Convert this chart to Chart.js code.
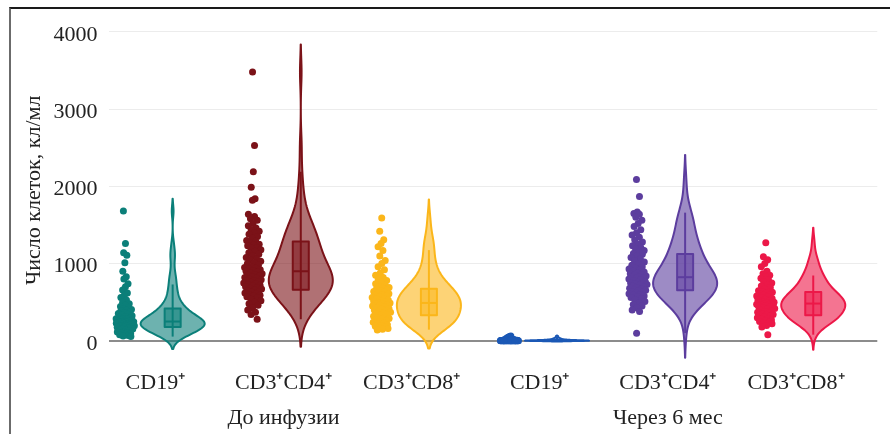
<!DOCTYPE html>
<html><head><meta charset="utf-8">
<style>
html,body{margin:0;padding:0;background:#fff;}
#wrap{position:relative;width:890px;height:434px;overflow:hidden;}
#frame{position:absolute;left:9px;top:7px;width:900px;height:440px;border-top:2px solid #1a1a1a;border-left:2px solid #6b6b6b;pointer-events:none;}
canvas{display:block;}
</style>
<script src="https://cdn.jsdelivr.net/npm/chart.js@4.4.0/dist/chart.umd.min.js"></script>
</head><body>
<div id="wrap"><canvas id="c" width="890" height="434"></canvas><div id="frame"></div></div>
<script>
// ---- data (cells per µl) ----
const categories = ['CD19⁺', 'CD3⁺CD4⁺', 'CD3⁺CD8⁺', 'CD19⁺', 'CD3⁺CD4⁺', 'CD3⁺CD8⁺'];
const groupLabels = ['До инфузии', 'Через 6 мес'];
const groupLabelAt = [1, 4];
const yTicks = [0, 1000, 2000, 3000, 4000];
const yTitle = 'Число клеток, кл/мл';

const cd19Before = [1680, 1260, 1140, 1110, 1010, 900, 830, 800,
  740, 700, 660, 620, 590, 560, 530, 500, 480, 460, 445, 430,
  415, 405, 395, 385, 375, 365, 355, 345, 335, 325, 315, 305, 295, 290, 285, 280, 275, 270, 265, 260, 255, 250,
  247, 244, 240, 236, 232, 228, 224, 220, 216, 212, 208, 204, 200, 196, 192, 188, 184, 180,
  175, 168, 160, 152, 145, 138, 130, 122, 115, 108, 100, 92, 85, 78, 70, 62, 55];
const cd4Before = [3480, 2530, 2190, 1990, 1840, 1820, 1640, 1610, 1580, 1560, 1520, 1490, 1460, 1440, 1420, 1400, 1380, 1350, 1330, 1300, 1290, 1270, 1250, 1240, 1230, 1210, 1200,
  1180, 1160, 1140, 1120, 1100, 1080, 1060, 1050, 1030, 1010, 1000, 980, 960, 950, 940, 930, 920, 910, 900,
  890, 880, 870, 860, 850, 840, 830, 820, 810, 800, 790, 780, 775, 770, 760, 750, 740, 730, 720, 710, 700, 690, 680, 670, 660,
  650, 640, 630, 620, 610, 600, 590, 580, 570, 560, 540, 520, 500, 480, 460, 430, 400, 370, 340, 280];
const cd8Before = [1590, 1420, 1310, 1260, 1220,
  1170, 1100, 1040, 1000, 960, 920, 880, 850, 820, 800, 780, 760, 740, 720, 700, 690, 680,
  670, 660, 650, 640, 630, 620, 610, 600, 590, 580, 570, 560, 550, 540, 530, 520, 510, 500, 495, 490, 485, 480, 470, 460, 450, 440, 430, 420, 410, 400, 390, 380, 370, 360, 350, 340,
  330, 320, 310, 300, 290, 280, 270, 260, 250, 240, 230, 220, 210, 200, 190, 180, 170, 160, 150, 140];
const cd19After = [62, 55, 48, 42, 38, 35, 32, 30, 28, 26, 24, 22, 20, 19, 18, 17, 16, 15, 14, 13, 12, 12, 11, 10, 10, 9, 9, 8, 8, 7, 7, 6, 6, 6,
  5, 5, 5, 5, 4, 4, 4, 4, 3, 3, 3, 3, 3, 2, 2, 2, 2, 2, 2, 1, 1, 1, 1, 1, 1, 1, 0, 0, 0, 0, 0, 0, 0, 0, 0, 0, 0, 0];
const cd4After = [2090, 1870, 1670, 1650, 1640, 1600, 1560, 1520, 1480, 1440, 1400, 1370, 1340, 1310, 1280, 1250, 1230, 1210, 1190, 1170, 1150, 1130,
  1120, 1100, 1080, 1060, 1040, 1020, 1000, 980, 960, 940, 930, 920, 900, 890, 880, 870, 860, 850, 840, 830, 825,
  820, 810, 800, 790, 780, 770, 760, 750, 745, 740, 730, 720, 710, 700, 690, 680, 670, 660, 655,
  650, 640, 630, 620, 610, 600, 590, 580, 570, 560, 550, 530, 510, 490, 470, 450, 430, 400, 380, 100];
const cd8After = [1270, 1090, 1050, 1000, 960, 900, 870, 850, 830, 810, 790, 770, 750, 730, 710, 690, 670, 650, 640, 635,
  630, 620, 610, 600, 590, 580, 570, 560, 550, 540, 530, 520, 510, 500, 495, 490, 485,
  480, 475, 470, 465, 460, 455, 450, 440, 430, 420, 410, 400, 390, 380, 370, 360, 350, 340, 335,
  330, 320, 310, 300, 290, 280, 270, 260, 250, 240, 230, 220, 200, 180, 80];

// box statistics
const boxQ1 = [180, 663, 333, 1, 654, 333];
const boxMedian = [250, 901, 491, 4, 824, 483];
const boxQ3 = [420, 1286, 675, 12, 1124, 632];
const whiskerLow = [55, 280, 145, 0, 100, 80];
const whiskerHigh = [730, 2190, 1175, 50, 1660, 846];

const series = [cd19Before, cd4Before, cd8Before, cd19After, cd4After, cd8After];
const colors = ['#0b7f79', '#7b1218', '#fbb61a', '#1b58b5', '#5c3d9e', '#ec1848'];

// ---- style constants ----
const FONT = '"Liberation Serif", "Times New Roman", serif';
const TEXT = '#222222';
const VIOLIN_HALF = 0.25;    // category units
const BOX_HALF = 0.0625;
const POINT_POS = -0.372;
const JITTER = 0.075;
const LABEL_SHIFT = -0.135;

function rgba(hex, a) {
  const n = parseInt(hex.slice(1), 16);
  return `rgba(${(n >> 16) & 255},${(n >> 8) & 255},${n & 255},${a})`;
}
function quantile(sorted, p) {
  const idx = (sorted.length - 1) * p, lo = Math.floor(idx), hi = Math.ceil(idx);
  return sorted[lo] + (sorted[hi] - sorted[lo]) * (idx - lo);
}
// Gaussian KDE with Silverman bandwidth, soft span of 2 bandwidths
function kde(vals) {
  const s = vals.slice().sort((a, b) => a - b);
  const n = s.length;
  const mean = s.reduce((a, b) => a + b, 0) / n;
  const sd = Math.sqrt(s.reduce((a, b) => a + (b - mean) * (b - mean), 0) / (n - 1));
  const iqr = quantile(s, 0.75) - quantile(s, 0.25);
  let a = Math.min(sd, iqr / 1.349);
  if (!(a > 0)) a = sd || 1;
  const h = 1.059 * a * Math.pow(n, -0.2);
  const lo = s[0] - 2 * h, hi = s[n - 1] + 2 * h;
  const N = 160, ys = [], d = [];
  const f = (y) => { let t = 0; for (const v of s) { const z = (y - v) / h; t += Math.exp(-0.5 * z * z); } return t; };
  for (let j = 0; j <= N; j++) { const y = lo + (hi - lo) * j / N; ys.push(y); d.push(f(y)); }
  const max = Math.max(...d);
  return { ys, d, max, f };
}
const kdes = series.map(kde);

// points with density-scaled deterministic jitter
const datasets = series.map((vals, i) => {
  const k = kdes[i];
  const data = vals.map((v, j) => {
    const r = ((j * 0.6180339887 + i * 0.31) % 1) * 2 - 1;
    const w = Math.sqrt(k.f(v) / k.max);
    return { x: i + POINT_POS + JITTER * w * r, y: v };
  });
  return {
    data, backgroundColor: colors[i], borderWidth: 0,
    pointRadius: 3.5, pointHoverRadius: 3.5
  };
});

const violinPlugin = {
  id: 'violins',
  beforeDatasetsDraw(chart) {
    const { ctx } = chart;
    const xs = chart.scales.x, ys = chart.scales.y;
    series.forEach((vals, i) => {
      const k = kdes[i], col = colors[i];
      ctx.save();
      ctx.beginPath();
      for (let j = 0; j < k.ys.length; j++) {
        const px = xs.getPixelForValue(i + VIOLIN_HALF * k.d[j] / k.max);
        const py = ys.getPixelForValue(k.ys[j]);
        if (j === 0) ctx.moveTo(px, py); else ctx.lineTo(px, py);
      }
      for (let j = k.ys.length - 1; j >= 0; j--) {
        ctx.lineTo(xs.getPixelForValue(i - VIOLIN_HALF * k.d[j] / k.max), ys.getPixelForValue(k.ys[j]));
      }
      ctx.closePath();
      ctx.fillStyle = rgba(col, 0.6);
      ctx.fill();
      ctx.lineWidth = 2; ctx.lineJoin = 'round'; ctx.strokeStyle = col;
      ctx.stroke();
      // whisker
      const cx = xs.getPixelForValue(i);
      ctx.beginPath();
      ctx.moveTo(cx, ys.getPixelForValue(whiskerLow[i]));
      ctx.lineTo(cx, ys.getPixelForValue(whiskerHigh[i]));
      ctx.stroke();
      // box
      const bl = xs.getPixelForValue(i - BOX_HALF), br = xs.getPixelForValue(i + BOX_HALF);
      const bt = ys.getPixelForValue(boxQ3[i]), bb = ys.getPixelForValue(boxQ1[i]);
      ctx.beginPath();
      ctx.rect(bl, bt, br - bl, bb - bt);
      ctx.fillStyle = rgba(col, 0.55);
      ctx.fill();
      ctx.stroke();
      const pm = ys.getPixelForValue(boxMedian[i]);
      ctx.beginPath(); ctx.moveTo(bl, pm); ctx.lineTo(br, pm); ctx.stroke();
      ctx.restore();
    });
  }
};

new Chart(document.getElementById('c'), {
  type: 'scatter',
  data: { datasets },
  plugins: [violinPlugin],
  options: {
    responsive: false, animation: false, devicePixelRatio: 1,
    layout: { padding: { left: 21, right: 12.7, top: 20.5, bottom: 0 } },
    plugins: { legend: { display: false }, tooltip: { enabled: false } },
    scales: {
      x: {
        type: 'linear', min: -0.5, max: 5.5,
        grid: { display: false }, border: { display: false },
        afterBuildTicks: (s) => { s.ticks = categories.map((_, i) => ({ value: i + LABEL_SHIFT })); },
        afterFit: (s) => { s.height = 77.7; },
        ticks: {
          autoSkip: false, maxRotation: 0, minRotation: 0, padding: 1, color: TEXT,
          font: { family: FONT, size: 22, lineHeight: 35 / 22 },
          callback: (v, idx) => {
            const g = groupLabelAt.indexOf(idx);
            return g >= 0 ? [categories[idx], groupLabels[g]] : categories[idx];
          }
        }
      },
      y: {
        min: -200, max: 4100,
        afterBuildTicks: (s) => { s.ticks = yTicks.map(v => ({ value: v })); },
        afterFit: (s) => { s.width = 108.6 - 21; },
        grid: {
          drawTicks: false,
          color: (c) => c.tick && c.tick.value === 0 ? '#8c8c8c' : '#ececec',
          lineWidth: (c) => c.tick && c.tick.value === 0 ? 2 : 1
        },
        border: { display: false },
        ticks: {
          padding: 11, labelOffset: 3, color: TEXT, font: { family: FONT, size: 22 },
          callback: (v) => String(v)
        },
        title: { display: true, text: yTitle, color: TEXT, padding: { top: 0, bottom: 0 }, font: { family: FONT, size: 22, lineHeight: 1.2 } }
      }
    }
  }
});
</script>
</body></html>
